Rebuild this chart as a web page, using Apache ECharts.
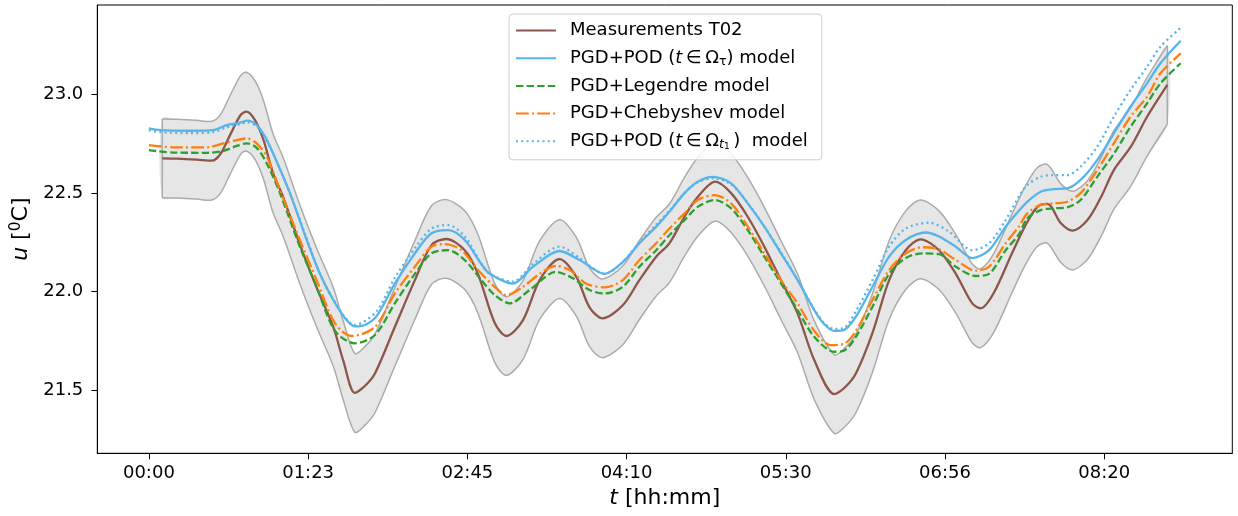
<!DOCTYPE html>
<html><head><meta charset="utf-8">
<script src="https://cdn.jsdelivr.net/npm/echarts@6/dist/echarts.min.js"></script>
<style>html,body{margin:0;padding:0;background:#fff}#c{width:1238px;height:516px}</style>
</head><body><div id="c"></div>
<script>
// x values are minutes from start
const tickPos = [0, 83.33, 166.67, 250, 333.33, 416.67, 500];
const tickLabels = ['00:00', '01:23', '02:45', '04:10', '05:30', '06:56', '08:20'];
const yTicks = [21.5, 22.0, 22.5, 23.0];

const measT = [7, 15, 25, 33, 37.5, 42.7, 48, 51, 55.6, 60, 65, 70.3, 79, 87.8, 96.5, 101.7, 107.8, 113, 118.3, 128.7, 139.2, 147.9, 155.7, 165.3, 172.2, 181, 187.1, 195.8, 204.5, 214.9, 223.7, 230.6, 237.4, 248, 256.7, 265.5, 272.4, 280.3, 287.2, 296.4, 304.7, 313.4, 322.1, 330.8, 339.5, 348.2, 358.7, 363.9, 370, 378.7, 387.4, 396.1, 403.9, 413.5, 422.3, 430.9, 435.3, 442, 451.7, 458.4, 465, 470.3, 477.3, 483.4, 491.2, 498.3, 505, 513.9, 522.4, 533];
const measU = [22.677, 22.675, 22.670, 22.665, 22.70, 22.80, 22.897, 22.914, 22.87, 22.77, 22.60, 22.48, 22.24, 22.02, 21.82, 21.65, 21.485, 21.52, 21.584, 21.82, 22.058, 22.236, 22.267, 22.21, 22.09, 21.84, 21.774, 21.855, 22.058, 22.165, 22.075, 21.92, 21.864, 21.93, 22.058, 22.177, 22.245, 22.38, 22.48, 22.558, 22.50, 22.38, 22.228, 22.058, 21.889, 21.652, 21.479, 21.51, 21.584, 21.79, 22.058, 22.21, 22.265, 22.21, 22.09, 21.94, 21.915, 21.99, 22.194, 22.33, 22.43, 22.445, 22.347, 22.31, 22.363, 22.48, 22.617, 22.736, 22.888, 23.05];
const bandHi = [22.877, 22.875, 22.870, 22.865, 22.90, 23.00, 23.097, 23.114, 23.07, 22.97, 22.80, 22.68, 22.44, 22.22, 22.02, 21.85, 21.685, 21.72, 21.784, 22.02, 22.258, 22.436, 22.467, 22.41, 22.29, 22.04, 21.974, 22.055, 22.258, 22.365, 22.275, 22.12, 22.064, 22.13, 22.258, 22.377, 22.445, 22.58, 22.68, 22.758, 22.70, 22.58, 22.428, 22.258, 22.089, 21.852, 21.679, 21.71, 21.784, 21.99, 22.258, 22.41, 22.465, 22.41, 22.29, 22.14, 22.115, 22.19, 22.394, 22.53, 22.63, 22.645, 22.547, 22.51, 22.563, 22.68, 22.817, 22.936, 23.088, 23.25];
const bandLo = [22.477, 22.475, 22.470, 22.465, 22.50, 22.60, 22.697, 22.714, 22.67, 22.57, 22.40, 22.28, 22.04, 21.82, 21.62, 21.45, 21.285, 21.32, 21.384, 21.62, 21.858, 22.036, 22.067, 22.01, 21.89, 21.64, 21.574, 21.655, 21.858, 21.965, 21.875, 21.72, 21.664, 21.73, 21.858, 21.977, 22.045, 22.18, 22.28, 22.358, 22.30, 22.18, 22.028, 21.858, 21.689, 21.452, 21.279, 21.31, 21.384, 21.59, 21.858, 22.01, 22.065, 22.01, 21.89, 21.74, 21.715, 21.79, 21.994, 22.13, 22.23, 22.245, 22.147, 22.11, 22.163, 22.28, 22.417, 22.536, 22.688, 22.85];

const podTauT = [0, 5.9, 21.6, 33.6, 40.8, 47.7, 51.5, 56.4, 60.8, 65.1, 73.8, 82.6, 89.5, 96.5, 103, 107.8, 113, 119.2, 128.7, 139.2, 147.9, 156.6, 165.3, 174, 178.4, 190.5, 201, 214.9, 225.4, 238.5, 248, 256.7, 265.5, 272.4, 280.3, 287.2, 295.1, 304.7, 313.4, 322.1, 330.8, 339.5, 348.2, 353.4, 358.7, 363.9, 370, 378.7, 387.4, 396.1, 406.6, 413.5, 422.3, 430.9, 439.7, 448.4, 455.3, 459.7, 466.7, 473.6, 480.6, 487.6, 496.3, 505, 513.7, 522.4, 529.4, 540];
const podTauU = [22.829, 22.82, 22.817, 22.82, 22.846, 22.858, 22.868, 22.846, 22.787, 22.70, 22.50, 22.262, 22.09, 21.957, 21.86, 21.823, 21.83, 21.875, 22.04, 22.194, 22.296, 22.312, 22.262, 22.14, 22.09, 22.04, 22.126, 22.206, 22.16, 22.09, 22.15, 22.245, 22.33, 22.405, 22.50, 22.558, 22.583, 22.55, 22.448, 22.33, 22.194, 22.058, 21.906, 21.835, 21.80, 21.805, 21.872, 22.024, 22.177, 22.262, 22.30, 22.28, 22.228, 22.17, 22.21, 22.33, 22.41, 22.456, 22.507, 22.52, 22.524, 22.567, 22.668, 22.804, 22.939, 23.058, 23.16, 23.274];

const legT = [0, 12.9, 30.3, 39, 46, 51.2, 56.4, 61.7, 68.6, 79, 87.8, 97.4, 107.8, 118.3, 128.7, 139.2, 147.9, 156.6, 165.3, 174, 181, 188.8, 199.3, 213.2, 221.9, 230.6, 238.5, 248, 256.7, 265.5, 272.4, 280.3, 287.2, 296, 304.7, 313.4, 322.1, 339.5, 348.2, 358.7, 363.9, 370, 378.7, 387.4, 396.1, 404.8, 413.5, 422.3, 432.7, 439.7, 448.4, 455.3, 459.7, 466.7, 473.6, 480.6, 487.6, 496.3, 505, 513.7, 522.4, 529.4, 540];
const legU = [22.719, 22.706, 22.705, 22.715, 22.74, 22.753, 22.73, 22.651, 22.50, 22.228, 22.024, 21.80, 21.737, 21.779, 21.94, 22.09, 22.194, 22.21, 22.16, 22.058, 21.982, 21.94, 22.008, 22.10, 22.067, 22.008, 21.99, 22.024, 22.126, 22.21, 22.286, 22.363, 22.43, 22.465, 22.423, 22.312, 22.177, 21.906, 21.77, 21.694, 21.70, 21.77, 21.923, 22.09, 22.17, 22.194, 22.19, 22.126, 22.079, 22.09, 22.21, 22.29, 22.372, 22.414, 22.423, 22.428, 22.465, 22.583, 22.70, 22.837, 22.956, 23.058, 23.16];

const chebT = [0, 12.9, 30.3, 39, 46, 51.2, 56.4, 61.7, 68.6, 79, 87.8, 97.4, 106.1, 118.3, 128.7, 139.2, 147.9, 154.8, 163.6, 172.2, 181, 187.1, 195.8, 204.5, 213.2, 220.2, 228.9, 238.5, 248, 256.7, 265.5, 272.4, 280.3, 287.2, 296, 304.7, 313.4, 322.1, 330.8, 339.5, 348.2, 356.9, 363.9, 370, 378.7, 387.4, 396.1, 404.8, 413.5, 422.3, 432.7, 439.7, 448.4, 455.3, 459.7, 466.7, 473.6, 480.6, 487.6, 496.3, 505, 513.7, 522.4, 529.4, 540];
const chebU = [22.744, 22.733, 22.733, 22.753, 22.77, 22.778, 22.753, 22.685, 22.516, 22.262, 22.058, 21.838, 21.774, 21.82, 21.99, 22.126, 22.228, 22.241, 22.21, 22.109, 22.024, 21.982, 22.024, 22.09, 22.13, 22.109, 22.04, 22.021, 22.058, 22.16, 22.245, 22.32, 22.397, 22.465, 22.49, 22.448, 22.33, 22.194, 22.058, 21.94, 21.80, 21.728, 21.735, 21.80, 21.957, 22.109, 22.194, 22.225, 22.214, 22.16, 22.106, 22.126, 22.245, 22.33, 22.397, 22.44, 22.448, 22.456, 22.50, 22.617, 22.753, 22.888, 22.99, 23.109, 23.21];

const podT1T = [0, 5.9, 21.6, 33.6, 40.8, 47.7, 51.5, 56.4, 60.8, 65.1, 73.8, 82.6, 89.5, 96.5, 107.8, 119.2, 128.7, 139.2, 147.9, 156.6, 165.3, 174, 178.4, 190.5, 201, 214.9, 225.4, 238.5, 248, 256.7, 265.5, 272.4, 280.3, 287.2, 295.1, 304.7, 313.4, 322.1, 330.8, 339.5, 348.2, 353.4, 358.7, 363.9, 370, 378.7, 387.4, 396.1, 408.3, 418.8, 430.9, 439.7, 448.4, 455.3, 459.7, 466.7, 473.6, 480.6, 487.6, 496.3, 505, 513.7, 522.4, 529.4, 540];
const podT1U = [22.82, 22.81, 22.805, 22.81, 22.835, 22.85, 22.86, 22.84, 22.78, 22.70, 22.50, 22.27, 22.09, 21.96, 21.83, 21.90, 22.07, 22.22, 22.32, 22.338, 22.28, 22.14, 22.09, 22.05, 22.14, 22.228, 22.17, 22.09, 22.15, 22.25, 22.34, 22.41, 22.50, 22.555, 22.575, 22.545, 22.45, 22.33, 22.20, 22.06, 21.91, 21.84, 21.81, 21.815, 21.90, 22.058, 22.228, 22.32, 22.35, 22.304, 22.21, 22.245, 22.363, 22.482, 22.541, 22.583, 22.592, 22.592, 22.634, 22.736, 22.888, 23.024, 23.142, 23.244, 23.34];

const names = ['Measurements T02', 'PGD+POD (t\u2208\u03A9\u03C4) model', 'PGD+Legendre model', 'PGD+Chebyshev model', 'PGD+POD (t\u2208\u03A9t1)  model'];
const colors = ['#8c564b', '#56b4e9', '#2ca02c', '#ff7f0e', '#56b4e9'];

const FONT = 'DejaVu Sans';
const zip = (T, U) => T.map((t, i) => [t, U[i]]);

function lineSeries(name, T, U, color, type) {
  return {
    type: 'line', name: name, data: zip(T, U), symbol: 'none', showSymbol: false,
    smooth: 0.3,
    lineStyle: { color: color, width: 2.3, type: type },
    itemStyle: { color: color }, emphasis: { disabled: true }
  };
}

const legendFmt = {};
legendFmt[names[0]] = '{sp|}{n|Measurements T02}';
legendFmt[names[1]] = '{sp|}{n|PGD+POD (}{i|t}{n|\u2009\u2208\u2009\u03A9}{s|\u03C4}{n|) model}';
legendFmt[names[2]] = '{sp|}{n|PGD+Legendre model}';
legendFmt[names[3]] = '{sp|}{n|PGD+Chebyshev model}';
legendFmt[names[4]] = '{sp|}{n|PGD+POD (}{i|t}{n|\u2009\u2208\u2009\u03A9}{si|t}{ss|1}{n|\u2009)  model}';

const rich = {
  n: { fontFamily: FONT, fontSize: 18, lineHeight: 20, color: '#000' },
  i: { fontFamily: FONT, fontStyle: 'italic', fontSize: 18, lineHeight: 20, color: '#000' },
  s: { fontFamily: FONT, fontSize: 12.5, lineHeight: 7, verticalAlign: 'bottom', color: '#000' },
  si: { fontFamily: FONT, fontStyle: 'italic', fontSize: 12.5, lineHeight: 7, verticalAlign: 'bottom', color: '#000' },
  ss: { fontFamily: FONT, fontSize: 9, lineHeight: 1, verticalAlign: 'bottom', color: '#000' },
  sp: { width: 9, lineHeight: 20 }
};
const richBig = {
  n: { fontFamily: FONT, fontSize: 22, lineHeight: 26, color: '#000' },
  i: { fontFamily: FONT, fontStyle: 'italic', fontSize: 22, lineHeight: 26, color: '#000' },
  sup: { fontFamily: FONT, fontSize: 15.5, lineHeight: 9, verticalAlign: 'top', color: '#000' }
};

const n = measT.length;
const BAND_SMOOTH = 0.3;

const option = {
  animation: false,
  backgroundColor: '#fff',
  grid: { left: 97.3, right: 5.7, top: 5, bottom: 62.7, show: true, borderColor: '#000', borderWidth: 1, containLabel: false },
  xAxis: {
    type: 'value', min: -27, max: 567,
    axisLine: { show: true, onZero: false, lineStyle: { color: '#000', width: 1 } },
    axisTick: { show: true, customValues: tickPos, length: 6, lineStyle: { color: '#000', width: 1 } },
    axisLabel: {
      customValues: tickPos, margin: 11, fontSize: 18, fontFamily: FONT, color: '#000',
      formatter: v => { const k = tickPos.findIndex(p => Math.abs(p - v) < 0.01); return k >= 0 ? tickLabels[k] : ''; }
    },
    splitLine: { show: false },
    name: '{i|t}{n| [hh:mm]}', nameLocation: 'middle', nameGap: 31,
    nameTextStyle: { fontFamily: FONT, fontSize: 22, color: '#000', rich: richBig }
  },
  yAxis: {
    type: 'value', min: 21.178, max: 23.456,
    axisLine: { show: true, onZero: false, lineStyle: { color: '#000', width: 1 } },
    axisTick: { show: true, customValues: yTicks, length: 6, lineStyle: { color: '#000', width: 1 } },
    axisLabel: { customValues: yTicks, margin: 14, fontSize: 18, fontFamily: FONT, color: '#000', formatter: v => v.toFixed(1) },
    splitLine: { show: false },
    name: '{i|u}{n| [}{sup|0}{n|C]}', nameLocation: 'middle', nameGap: 57, nameRotate: 90,
    nameTextStyle: { fontFamily: FONT, fontSize: 22, color: '#000', rich: richBig }
  },
  legend: {
    orient: 'vertical', left: 509, top: 14, padding: [6.5, 14, 8.5, 6],
    itemWidth: 40, itemHeight: 14, itemGap: 7.7,
    itemStyle: { opacity: 0 },
    backgroundColor: 'rgba(255,255,255,0.85)', borderColor: '#cccccc', borderWidth: 1, borderRadius: 4,
    selectedMode: false, data: names,
    formatter: nm => legendFmt[nm],
    textStyle: { fontFamily: FONT, fontSize: 18, color: '#000', lineHeight: 20, rich: rich }
  },
  series: [
    {
      type: 'custom', name: 'band', silent: true, clip: true,
      data: [[measT[0], measU[0]]],
      renderItem: function (params, api) {
        const up = [], lo = [];
        for (let i = 0; i < n; i++) up.push(api.coord([measT[i], bandHi[i]]));
        for (let i = 0; i < n; i++) lo.push(api.coord([measT[i], bandLo[i]]));
        const edge = { stroke: '#ababab', lineWidth: 1.5, fill: null, lineJoin: 'round' };
        return {
          type: 'group',
          children: [
            { type: 'polygon', shape: { points: up.concat(lo.slice().reverse()), smooth: BAND_SMOOTH }, style: { fill: '#e6e6e6', stroke: null } },
            { type: 'polyline', shape: { points: up, smooth: BAND_SMOOTH }, style: edge },
            { type: 'polyline', shape: { points: lo, smooth: BAND_SMOOTH }, style: edge },
            { type: 'polyline', shape: { points: [lo[0], up[0]] }, style: edge },
            { type: 'polyline', shape: { points: [lo[n - 1], up[n - 1]] }, style: edge }
          ]
        };
      }
    },
    lineSeries(names[0], measT, measU, colors[0], 'solid'),
    lineSeries(names[2], legT, legU, colors[2], [7.4, 3.2]),
    lineSeries(names[3], chebT, chebU, colors[3], [12.8, 3.2, 2, 3.2]),
    lineSeries(names[4], podT1T, podT1U, colors[4], [2, 3.3]),
    lineSeries(names[1], podTauT, podTauU, colors[1], 'solid')
  ]
};

const chart = echarts.init(document.getElementById('c'), null, { renderer: 'canvas' });
chart.setOption(option);
</script></body></html>
